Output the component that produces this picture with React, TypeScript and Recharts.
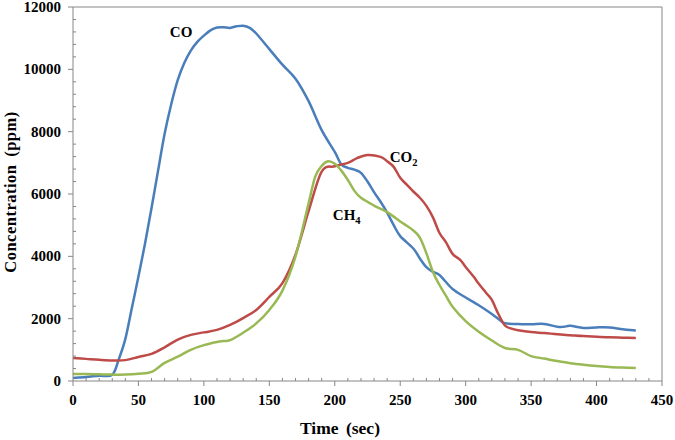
import React from 'react';
import { LineChart, Line, XAxis, YAxis, ReferenceLine, ReferenceDot } from 'recharts';

const coTimes = [0,10,20,30,35,40,45,50,55,60,65,70,75,80,85,90,95,100,105,110,115,120,125,130,135,140,150,160,170,180,190,200,205,210,215,220,225,230,235,240,245,250,260,265,270,275,280,290,300,310,320,326,330,340,350,360,370,375,380,390,400,410,420,430];
const coValues = [100,130,170,200,700,1350,2350,3350,4400,5550,6750,7930,8870,9650,10200,10600,10880,11080,11250,11340,11350,11330,11380,11400,11330,11150,10650,10150,9700,8980,8050,7350,6950,6840,6780,6680,6400,6060,5750,5400,5000,4650,4250,3930,3650,3500,3400,2950,2680,2430,2150,1960,1850,1830,1820,1830,1740,1740,1770,1700,1720,1720,1660,1620];

const co2Times = [0,10,20,30,40,50,60,70,80,90,100,110,120,130,140,150,160,170,180,190,200,210,217,225,235,240,245,250,255,260,265,270,275,280,285,290,296,300,306,310,316,320,325,330,335,340,350,360,370,380,390,400,410,420,430];
const co2Values = [740,710,680,660,670,770,870,1080,1330,1480,1560,1640,1800,2020,2280,2700,3140,4050,5450,6720,6890,7000,7150,7250,7190,7050,6870,6520,6300,6080,5880,5620,5250,4750,4450,4080,3880,3660,3350,3120,2810,2600,2150,1780,1680,1630,1570,1540,1500,1470,1440,1420,1400,1390,1380];

const ch4Times = [0,10,20,30,40,50,60,70,80,90,100,110,115,120,130,140,150,160,170,180,185,190,195,200,205,210,215,220,230,240,250,255,260,265,270,275,280,285,290,300,310,320,330,340,350,360,370,380,390,400,410,420,430];
const ch4Values = [225,225,215,205,205,230,290,580,780,1000,1150,1250,1280,1310,1550,1850,2280,2900,4000,5700,6550,6900,7050,6970,6750,6450,6100,5880,5630,5420,5120,4980,4830,4600,4100,3500,3080,2730,2380,1920,1580,1300,1060,1000,800,720,640,570,520,480,450,430,415];

const xMajorLabels = [0,50,100,150,200,250,300,350,400,450];
const yMajorLabels = [0,2000,4000,6000,8000,10000,12000];

const xTicks: number[] = [];
for (let v = 0; v <= 450; v += 10) xTicks.push(v);
const yTicks: number[] = [];
for (let v = 0; v <= 12000; v += 400) yTicks.push(v);

const toRows = (ts: number[], vs: number[]) => ts.map((t, i) => ({ t, v: vs[i] }));
const coData = toRows(coTimes, coValues);
const co2Data = toRows(co2Times, co2Values);
const ch4Data = toRows(ch4Times, ch4Values);

const FONT = '"Liberation Serif", "Times New Roman", serif';
const AXIS = '#868686';

// Excel-like smoothed line (Catmull-Rom through the points)
const smoothCurve = (context: any) => {
  let pts: [number, number][] = [];
  return {
    areaStart() {},
    areaEnd() {},
    lineStart() { pts = []; },
    point(x: number, y: number) { pts.push([+x, +y]); },
    lineEnd() {
      if (!pts.length) return;
      context.moveTo(pts[0][0], pts[0][1]);
      for (let i = 0; i < pts.length - 1; i++) {
        const p0 = pts[i - 1] || pts[i];
        const p1 = pts[i];
        const p2 = pts[i + 1];
        const p3 = pts[i + 2] || p2;
        context.bezierCurveTo(
          p1[0] + (p2[0] - p0[0]) / 6, p1[1] + (p2[1] - p0[1]) / 6,
          p2[0] - (p3[0] - p1[0]) / 6, p2[1] - (p3[1] - p1[1]) / 6,
          p2[0], p2[1]
        );
      }
    },
  };
};

const XTick = (props: any) => {
  const { x, y, payload } = props;
  const v = payload.value;
  if (xMajorLabels.includes(v)) {
    return (
      <g>
        <line x1={x} x2={x} y1={y} y2={y + 5} stroke={AXIS} strokeWidth={1} />
        <text x={x} y={y + 24} textAnchor="middle" fontFamily={FONT} fontWeight="bold" fontSize={15} fill="#000">{v}</text>
      </g>
    );
  }
  return <line x1={x} x2={x} y1={y} y2={y - 3} stroke={AXIS} strokeWidth={1} />;
};

const YTick = (props: any) => {
  const { x, y, payload } = props;
  const v = payload.value;
  if (yMajorLabels.includes(v)) {
    return (
      <g>
        <line x1={x - 5} x2={x} y1={y} y2={y} stroke={AXIS} strokeWidth={1} />
        <text x={x - 12} y={y} dy={5} textAnchor="end" fontFamily={FONT} fontWeight="bold" fontSize={15} fill="#000">{v}</text>
      </g>
    );
  }
  return <line x1={x} x2={x + 3} y1={y} y2={y} stroke={AXIS} strokeWidth={1} />;
};

const SeriesLabel = (name: string, sub?: string) => (props: any) => {
  const { cx, cy } = props;
  return (
    <text x={cx} y={cy} fontFamily={FONT} fontWeight="bold" fontSize={15} fill="#000">
      {name}
      {sub ? <tspan fontSize={10.5} dy={4}>{sub}</tspan> : null}
    </text>
  );
};

export default function App() {
  return (
    <div style={{ position: 'absolute', left: 0, top: 0, width: 675, height: 440, background: '#fff' }}>
      <LineChart width={675} height={440} margin={{ top: 7, right: 13, left: 0, bottom: 0 }}>
        <XAxis
          dataKey="t"
          type="number"
          domain={[0, 450]}
          ticks={xTicks}
          interval={0}
          tickSize={0}
          tickMargin={0}
          tickLine={false}
          axisLine={{ stroke: AXIS }}
          height={59}
          tick={XTick}
          allowDuplicatedCategory={false}
        />
        <YAxis
          type="number"
          domain={[0, 12000]}
          ticks={yTicks}
          interval={0}
          tickSize={0}
          tickMargin={0}
          tickLine={false}
          axisLine={{ stroke: AXIS }}
          width={73}
          tick={YTick}
        />
        <ReferenceLine y={12000} stroke={AXIS} />
        <ReferenceLine x={450} stroke={AXIS} />
        <Line data={coData} dataKey="v" type={smoothCurve as any} stroke="#4A7EBB" strokeWidth={2.5} dot={false} isAnimationActive={false} />
        <Line data={co2Data} dataKey="v" type={smoothCurve as any} stroke="#BE4B48" strokeWidth={2.5} dot={false} isAnimationActive={false} />
        <Line data={ch4Data} dataKey="v" type={smoothCurve as any} stroke="#98B954" strokeWidth={2.5} dot={false} isAnimationActive={false} />
        <ReferenceDot x={74} y={11036} r={0} shape={SeriesLabel('CO')} />
        <ReferenceDot x={242} y={7030} r={0} shape={SeriesLabel('CO', '2')} />
        <ReferenceDot x={198.5} y={5165} r={0} shape={SeriesLabel('CH', '4')} />
      </LineChart>
      <svg width={675} height={440} style={{ position: 'absolute', left: 0, top: 0, pointerEvents: 'none' }}>
        <text x={340} y={434} textAnchor="middle" fontFamily={FONT} fontWeight="bold" fontSize={17.5} fill="#000" style={{ wordSpacing: 3 }}>Time (sec)</text>
        <text x={0} y={0} transform="translate(15.5,192) rotate(-90)" textAnchor="middle" fontFamily={FONT} fontWeight="bold" fontSize={16.5} fill="#000" style={{ wordSpacing: 3, letterSpacing: 0.5 }}>Concentration (ppm)</text>
      </svg>
    </div>
  );
}
